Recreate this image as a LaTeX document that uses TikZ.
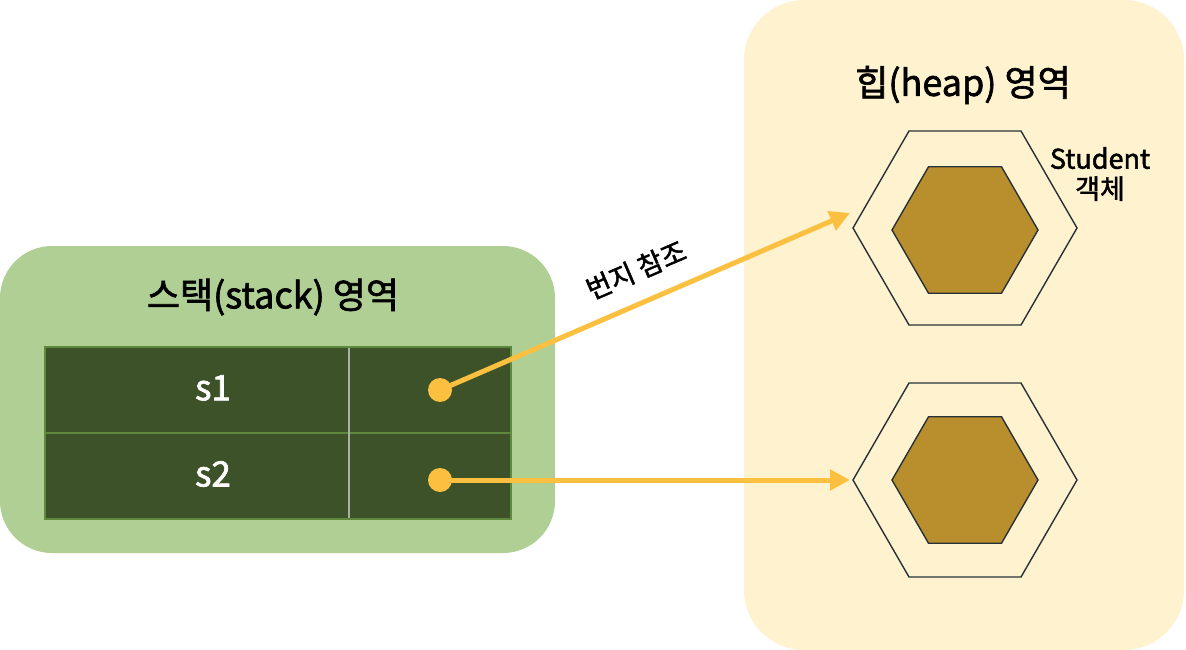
\documentclass[tikz,border=0pt]{standalone}
\usepackage{fontspec}
\setmainfont{Noto Sans CJK KR}[FakeBold=1.8]
\usetikzlibrary{shapes.geometric,arrows.meta}
\definecolor{stackbg}{HTML}{B0CF95}
\definecolor{heapbg}{HTML}{FFF2CF}
\definecolor{cellbg}{HTML}{3D5229}
\definecolor{cellline}{HTML}{5E8A3D}
\definecolor{divline}{HTML}{A8B0A0}
\definecolor{arrowc}{HTML}{FBC040}
\definecolor{hexfill}{HTML}{B98F2D}
\definecolor{hexline}{HTML}{263238}
\tikzset{
  hexouter/.style={regular polygon, regular polygon sides=6, minimum size=224pt, inner sep=0pt, draw=hexline, line width=1.4pt, fill=heapbg},
  hexinner/.style={regular polygon, regular polygon sides=6, minimum size=146pt, inner sep=0pt, draw=hexline, line width=1.4pt, fill=hexfill},
  cell/.style={draw=none, fill=cellbg, inner sep=0pt, anchor=north west},
  celltext/.style={text=white, font=\fontsize{35}{40}\selectfont},
  title/.style={font=\fontsize{36}{42}\selectfont},
  small/.style={font=\fontsize{27}{32}\selectfont, align=center},
  dotc/.style={circle, fill=arrowc, minimum size=24pt, inner sep=0pt},
  ref/.style={draw=arrowc, line width=5pt, -{Triangle[length=20pt,width=20pt]}, shorten <=-2pt},
}
\begin{document}
\begin{tikzpicture}[x=1pt,y=-1pt]
\useasboundingbox (0,0) rectangle (1186,650);
% regions
\fill[stackbg, rounded corners=52pt] (0,246) rectangle (555,553);
\fill[heapbg, rounded corners=60pt] (744,0) rectangle (1184,650);
% titles
\node[title] (stitle) at (273,297) {스택(stack) 영역};
\node[title] (htitle) at (963,85) {힙(heap) 영역};
% table
\node[cell, minimum width=466pt, minimum height=172pt] (tbl) at (45,347) {};
\draw[cellline, line width=2pt] (tbl.north west) rectangle (tbl.south east);
\draw[cellline, line width=2pt] (tbl.west) -- (tbl.east);
\coordinate (vtop) at (349,348);
\coordinate (vbot) at (349,518);
\draw[divline, line width=1.2pt] (vtop) -- (vbot);
\node[celltext] (s1) at (213,388) {s1};
\node[celltext] (s2) at (213,474) {s2};
% hexagons
\node[hexouter] (h1o) at (965,228) {};
\node[hexinner] (h1i) at (965,230) {};
\node[hexouter] (h2o) at (965,480) {};
\node[hexinner] (h2i) at (965,480) {};
\node[small] (stu) at (1100,174) {Student\\[-2pt]객체};
% dots and arrows
\node[dotc] (d1) at (440,390) {};
\node[dotc] (d2) at (440,480) {};
\coordinate (t1) at (850,213);
\coordinate (t2) at (850,480);
\draw[ref] (d1.center) -- (t1);
\draw[ref] (d2.center) -- (t2);
\node[small, rotate=23.3] (lbl) at (636,270) {번지 참조};
\end{tikzpicture}
\end{document}
